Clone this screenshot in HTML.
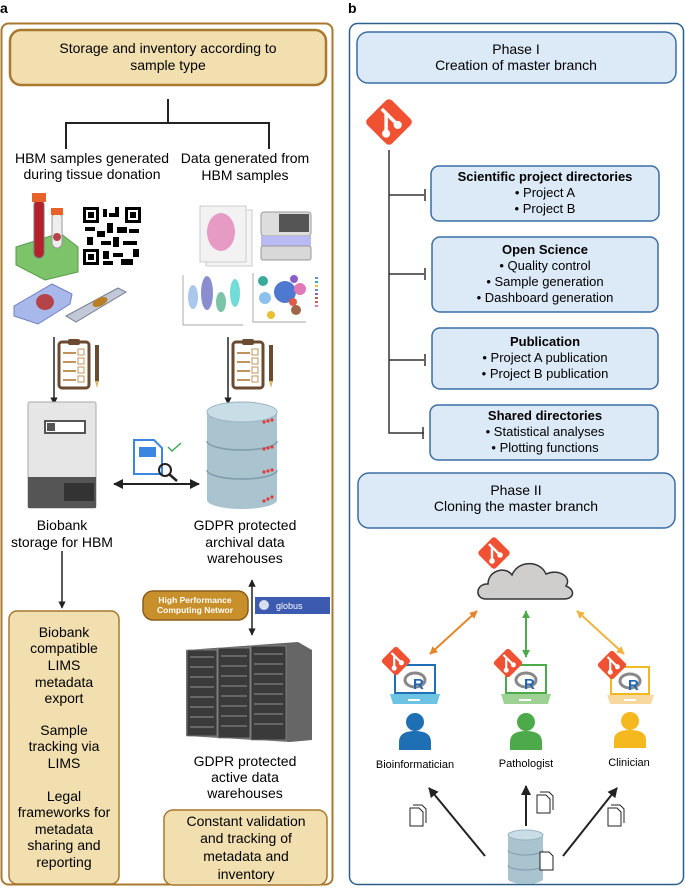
<!DOCTYPE html>
<html><head><meta charset="utf-8"><style>
html,body{margin:0;padding:0;background:#fff}
svg{display:block;font-family:"Liberation Sans",sans-serif}
</style></head><body>
<svg width="685" height="892" viewBox="0 0 685 892" xmlns="http://www.w3.org/2000/svg">
<defs>
<marker id="ah" viewBox="0 0 10 10" refX="9" refY="5" markerWidth="5" markerHeight="5" orient="auto-start-reverse"><path d="M0,0 L10,5 L0,10 z" fill="#222"/></marker>
<marker id="ao" viewBox="0 0 10 10" refX="9" refY="5" markerWidth="4" markerHeight="4" orient="auto-start-reverse"><path d="M0,0 L10,5 L0,10 z" fill="#e8852a"/></marker>
<marker id="ag" viewBox="0 0 10 10" refX="9" refY="5" markerWidth="4" markerHeight="4" orient="auto-start-reverse"><path d="M0,0 L10,5 L0,10 z" fill="#4caa4a"/></marker>
<marker id="ay" viewBox="0 0 10 10" refX="9" refY="5" markerWidth="4" markerHeight="4" orient="auto-start-reverse"><path d="M0,0 L10,5 L0,10 z" fill="#f2b240"/></marker>
<g id="git"><rect x="-12" y="-12" width="24" height="24" rx="3" fill="#f05133" transform="rotate(45)"/><path d="M-5,-9 L6,2 M-2,-6 L-2,8" stroke="#fff" stroke-width="2.4"/><circle cx="-2" cy="8" r="2.8" fill="#fff"/><circle cx="6" cy="2" r="2.8" fill="#fff"/></g>
<g id="doc"><path d="M0,0 h9 l4,4 v14 h-13 z" fill="#fff" stroke="#222" stroke-width="1"/><path d="M3,-3 h9 l4,4 v14" fill="none" stroke="#222" stroke-width="1"/></g>
</defs>

<!-- Panel a -->
<text x="0" y="13" font-size="14" font-weight="bold">a</text>
<rect x="1.5" y="23.5" width="331" height="861" rx="7" fill="none" stroke="#a8782f" stroke-width="2"/>
<rect x="10" y="30" width="316" height="55" rx="11" fill="#f2dfb0" stroke="#a8782f" stroke-width="2.5"/>
<text x="168" y="53" font-size="14" text-anchor="middle">Storage and inventory according to</text>
<text x="168" y="70" font-size="14" text-anchor="middle">sample type</text>
<path d="M168,99 V123 M66,149 V123 H269 V149" fill="none" stroke="#222" stroke-width="2"/>
<text x="92" y="163" font-size="14" text-anchor="middle">HBM samples generated</text>
<text x="92" y="179" font-size="14" text-anchor="middle">during tissue donation</text>
<text x="245" y="163" font-size="14" text-anchor="middle">Data generated from</text>
<text x="245" y="180" font-size="14" text-anchor="middle">HBM samples</text>

<!-- tubes & rack -->
<path d="M16,247 L60,233 L78,247 L78,272 L45,280 L16,265 z" fill="#7cc36a" stroke="#5a9a4a"/>
<rect x="34" y="200" width="10" height="58" rx="5" fill="#b5202a" stroke="#777"/>
<rect x="32" y="193" width="14" height="9" fill="#e8632a"/>
<rect x="52" y="213" width="10" height="35" rx="5" fill="#eee" stroke="#999"/>
<rect x="51" y="208" width="12" height="7" fill="#e8632a"/>
<circle cx="57" cy="237" r="4" fill="#b5444a"/>
<!-- QR -->
<rect x="83" y="207" width="58" height="58" fill="#fff"/>
<g fill="#000">
<rect x="83" y="207" width="16" height="16"/><rect x="125" y="207" width="16" height="16"/><rect x="83" y="249" width="16" height="16"/>
<rect x="103" y="209" width="4" height="8"/><rect x="109" y="213" width="6" height="4"/><rect x="115" y="207" width="4" height="10"/>
<rect x="85" y="227" width="10" height="4"/><rect x="97" y="231" width="8" height="6"/><rect x="107" y="223" width="6" height="10"/><rect x="117" y="227" width="10" height="6"/><rect x="129" y="229" width="10" height="4"/>
<rect x="87" y="237" width="6" height="8"/><rect x="101" y="241" width="10" height="4"/><rect x="113" y="237" width="6" height="10"/><rect x="123" y="241" width="14" height="4"/>
<rect x="103" y="251" width="6" height="8"/><rect x="113" y="253" width="10" height="4"/><rect x="121" y="259" width="12" height="6"/><rect x="133" y="249" width="6" height="8"/><rect x="103" y="261" width="10" height="4"/>
</g>
<rect x="86" y="210" width="10" height="10" fill="#fff"/><rect x="128" y="210" width="10" height="10" fill="#fff"/><rect x="86" y="252" width="10" height="10" fill="#fff"/>
<rect x="88" y="212" width="6" height="6"/><rect x="130" y="212" width="6" height="6"/><rect x="88" y="254" width="6" height="6"/>
<!-- cassettes -->
<path d="M14,306 L52,284 L72,294 L70,304 L38,324 L14,316 z" fill="#a9b8ea" stroke="#6e7fc4"/>
<ellipse cx="45" cy="302" rx="9" ry="8" fill="#b5444a"/>
<path d="M66,316 L118,288 L126,292 L76,322 z" fill="#c3c8d8" stroke="#7a8090"/>
<ellipse cx="100" cy="302" rx="8" ry="4" fill="#b88023" transform="rotate(-25 100 302)"/>
<!-- histology -->
<rect x="206" y="210" width="46" height="56" fill="#f4f4f4" stroke="#ccc"/>
<rect x="200" y="206" width="46" height="56" fill="#f2f2f2" stroke="#ccc"/>
<ellipse cx="221" cy="232" rx="14" ry="19" fill="#e79ac3"/>
<!-- scanner -->
<rect x="261" y="212" width="50" height="24" rx="3" fill="#ddd" stroke="#999"/>
<rect x="279" y="214" width="30" height="18" fill="#555"/>
<rect x="261" y="236" width="50" height="10" fill="#b9b9f3"/>
<rect x="261" y="246" width="50" height="14" rx="2" fill="#d8d8d8" stroke="#999"/>
<!-- violin -->
<path d="M183,275 V325 H243" fill="none" stroke="#888" stroke-width="0.7"/>
<ellipse cx="193" cy="297" rx="5" ry="12" fill="#a9c8ec"/>
<ellipse cx="207" cy="293" rx="6" ry="17" fill="#8a8ed0"/>
<ellipse cx="221" cy="302" rx="5" ry="10" fill="#7bc4a8"/>
<ellipse cx="235" cy="293" rx="5" ry="14" fill="#72dcd8"/>
<!-- tsne -->
<path d="M253,273 V322 H306" fill="none" stroke="#888" stroke-width="0.7"/>
<circle cx="263" cy="281" r="5" fill="#3aaa9a"/><circle cx="265" cy="298" r="6" fill="#8cc0ee"/><circle cx="285" cy="292" r="11" fill="#4f78d0"/><circle cx="294" cy="279" r="4" fill="#8b5fc9"/><circle cx="300" cy="289" r="6" fill="#e078b8"/><circle cx="293" cy="302" r="4" fill="#e05a4a"/><circle cx="296" cy="310" r="5" fill="#a0664a"/><circle cx="271" cy="315" r="4" fill="#e8c030"/>
<g fill="#6a8fd8"><rect x="315" y="277" width="3" height="2"/><rect x="315" y="281" width="3" height="2" fill="#3aaa9a"/><rect x="315" y="285" width="3" height="2" fill="#e8c030"/><rect x="315" y="289" width="3" height="2"/><rect x="315" y="293" width="3" height="2" fill="#8b5fc9"/><rect x="315" y="297" width="3" height="2" fill="#a0664a"/><rect x="315" y="301" width="3" height="2" fill="#e05a4a"/><rect x="315" y="305" width="3" height="2" fill="#e078b8"/></g>

<!-- down arrows + clipboards -->
<line x1="54" y1="337" x2="54" y2="404" stroke="#222" stroke-width="1.5" marker-end="url(#ah)"/>
<line x1="228" y1="337" x2="228" y2="404" stroke="#222" stroke-width="1.5" marker-end="url(#ah)"/>
<g id="clip">
<rect x="59" y="342" width="30" height="46" rx="3" fill="#fff" stroke="#6b4a32" stroke-width="3"/>
<rect x="68" y="339" width="12" height="6" rx="2" fill="#6b4a32"/>
<path d="M63,353 H76 M63,362 H76 M63,371 H76 M63,380 H76" stroke="#c0935a" stroke-width="2"/>
<rect x="78" y="349" width="6" height="6" fill="none" stroke="#c0935a"/><rect x="78" y="358" width="6" height="6" fill="none" stroke="#c0935a"/><rect x="78" y="367" width="6" height="6" fill="none" stroke="#c0935a"/><rect x="78" y="376" width="6" height="6" fill="none" stroke="#c0935a"/>
<rect x="95" y="345" width="4" height="36" fill="#6b4a32"/><path d="M95,381 L97,388 L99,381 z" fill="#d9b56a"/>
</g>
<use href="#clip" x="174"/>

<!-- freezer -->
<rect x="28" y="402" width="68" height="106" rx="2" fill="#e6e6e6" stroke="#aaa"/>
<rect x="45" y="421" width="40" height="12" fill="#fff" stroke="#555" stroke-width="2"/>
<rect x="47" y="423" width="8" height="8" fill="#555"/>
<rect x="28" y="477" width="68" height="31" fill="#555"/>
<rect x="64" y="483" width="30" height="18" fill="#333"/>
<!-- database -->
<g>
<rect x="207" y="412" width="70" height="88" fill="#a9c3cf"/>
<ellipse cx="242" cy="500" rx="35" ry="9" fill="#a9c3cf"/>
<path d="M207,441 A35,9 0 0 0 277,441 M207,470 A35,9 0 0 0 277,470" fill="none" stroke="#7f9cab" stroke-width="1.5"/>
<ellipse cx="242" cy="412" rx="35" ry="10" fill="#c8dde6" stroke="#9ab3c0"/>
<g fill="#e03a3a"><circle cx="264" cy="422" r="1.6"/><circle cx="268" cy="421" r="1.6"/><circle cx="272" cy="420" r="1.6"/><circle cx="264" cy="472" r="1.6"/><circle cx="268" cy="471" r="1.6"/><circle cx="272" cy="470" r="1.6"/><circle cx="264" cy="501" r="1.6"/><circle cx="268" cy="499" r="1.6"/><circle cx="272" cy="497" r="1.6"/><circle cx="264" cy="449" r="1.6"/><circle cx="268" cy="448" r="1.6"/><circle cx="272" cy="447" r="1.6"/></g>
</g>
<!-- doc check -->
<path d="M134,440 h20 l8,8 v26 h-28 z" fill="#fff" stroke="#3a86e0" stroke-width="2"/>
<rect x="139" y="447" width="17" height="10" fill="#3a86e0"/>
<circle cx="165" cy="470" r="6" fill="none" stroke="#222" stroke-width="2"/><line x1="169" y1="474" x2="177" y2="481" stroke="#222" stroke-width="2.5"/>
<path d="M168,447 l4,4 l9,-8" fill="none" stroke="#3aaa5a" stroke-width="1.5"/>
<line x1="114" y1="484" x2="199" y2="484" stroke="#222" stroke-width="2" marker-start="url(#ah)" marker-end="url(#ah)"/>

<text x="62" y="530" font-size="14" text-anchor="middle">Biobank</text>
<text x="62" y="547" font-size="14" text-anchor="middle">storage for HBM</text>
<text x="245" y="530" font-size="14" text-anchor="middle">GDPR protected</text>
<text x="245" y="547" font-size="14" text-anchor="middle">archival data</text>
<text x="245" y="563" font-size="14" text-anchor="middle">warehouses</text>
<line x1="62" y1="551" x2="62" y2="608" stroke="#222" stroke-width="1.5" marker-end="url(#ah)"/>

<rect x="143" y="591" width="105" height="29" rx="10" fill="#c8902a" stroke="#8a5f1a" stroke-width="1.5"/>
<text x="195" y="603" font-size="8.5" font-weight="bold" fill="#fff" text-anchor="middle">High Performance</text>
<text x="195" y="613" font-size="8.5" font-weight="bold" fill="#fff" text-anchor="middle">Computing Networ</text>
<rect x="255" y="597" width="75" height="17" fill="#3b5ab0"/>
<text x="276" y="609" font-size="9" fill="#fff">globus</text>
<circle cx="264" cy="605" r="5" fill="#fff" opacity="0.8"/>
<line x1="252" y1="580" x2="252" y2="635" stroke="#222" stroke-width="1.5" marker-start="url(#ah)" marker-end="url(#ah)"/>

<!-- servers -->
<path d="M186,650 L298,642 L312,650 L312,740 L290,742 L186,736 z" fill="#666"/>
<g fill="#3a3a3a" stroke="#888" stroke-width="0.8">
<rect x="187" y="650" width="30" height="86"/><rect x="218" y="648" width="32" height="90"/><rect x="251" y="646" width="35" height="94"/>
</g>
<g stroke="#666" stroke-width="2">
<path d="M190,657 H214 M190,667 H214 M190,677 H214 M190,687 H214 M190,697 H214 M190,707 H214 M190,717 H214 M190,727 H214"/>
<path d="M221,656 H247 M221,666 H247 M221,676 H247 M221,686 H247 M221,696 H247 M221,706 H247 M221,716 H247 M221,726 H247"/>
<path d="M254,654 H283 M254,664 H283 M254,674 H283 M254,684 H283 M254,694 H283 M254,704 H283 M254,714 H283 M254,724 H283"/>
</g>
<text x="245" y="766" font-size="14" text-anchor="middle">GDPR protected</text>
<text x="245" y="782" font-size="14" text-anchor="middle">active data</text>
<text x="245" y="798" font-size="14" text-anchor="middle">warehouses</text>

<rect x="9" y="611" width="110" height="273" rx="8" fill="#f2dfb0" stroke="#a8782f" stroke-width="1.5"/>
<g font-size="14" text-anchor="middle">
<text x="64" y="637">Biobank</text><text x="64" y="653">compatible</text><text x="64" y="670">LIMS</text><text x="64" y="687">metadata</text><text x="64" y="703">export</text>
<text x="64" y="735">Sample</text><text x="64" y="751">tracking via</text><text x="64" y="768">LIMS</text>
<text x="64" y="801">Legal</text><text x="64" y="817">frameworks for</text><text x="64" y="834">metadata</text><text x="64" y="850">sharing and</text><text x="64" y="867">reporting</text>
</g>
<rect x="164" y="810" width="163" height="75" rx="9" fill="#f2dfb0" stroke="#a8782f" stroke-width="1.5"/>
<g font-size="14" text-anchor="middle">
<text x="246" y="826">Constant validation</text><text x="246" y="843">and tracking of</text><text x="246" y="861">metadata and</text><text x="246" y="879">inventory</text>
</g>

<!-- Panel b -->
<text x="348" y="13" font-size="14" font-weight="bold">b</text>
<rect x="349.5" y="23.5" width="334" height="861" rx="8" fill="none" stroke="#2c5f8a" stroke-width="1.5"/>
<rect x="357" y="32" width="319" height="51" rx="11" fill="#dce9f7" stroke="#3a6ea5" stroke-width="1.5"/>
<text x="516" y="54" font-size="14" text-anchor="middle">Phase I</text>
<text x="516" y="70" font-size="14" text-anchor="middle">Creation of master branch</text>
<g transform="translate(389,122) scale(1.45)"><use href="#git"/></g>
<path d="M389,150 V433 H424 M389,195 H424 M389,274 H424 M389,360 H424" fill="none" stroke="#333" stroke-width="1.5"/>
<path d="M425,189 V201 M425,268 V280 M425,354 V366 M423,427 V439" stroke="#333" stroke-width="1.5"/>
<g fill="#dce9f7" stroke="#3a6ea5" stroke-width="1.5">
<rect x="431" y="166" width="228" height="55" rx="8"/>
<rect x="432" y="237" width="226" height="75" rx="8"/>
<rect x="432" y="328" width="226" height="61" rx="8"/>
<rect x="430" y="405" width="228" height="55" rx="8"/>
</g>
<g font-size="13" text-anchor="middle">
<text x="545" y="181" font-weight="bold">Scientific project directories</text>
<text x="545" y="197">•  Project A</text><text x="545" y="213">•  Project B</text>
<text x="545" y="254" font-weight="bold">Open Science</text>
<text x="545" y="270">•  Quality control</text><text x="545" y="286">•  Sample generation</text><text x="545" y="302">•  Dashboard generation</text>
<text x="545" y="346" font-weight="bold">Publication</text>
<text x="545" y="362">•  Project A publication</text><text x="545" y="378">•  Project B publication</text>
<text x="545" y="420" font-weight="bold">Shared directories</text>
<text x="545" y="436">•  Statistical analyses</text><text x="545" y="452">•  Plotting functions</text>
</g>
<rect x="358" y="473" width="317" height="55" rx="11" fill="#dce9f7" stroke="#3a6ea5" stroke-width="1.5"/>
<text x="516" y="495" font-size="14" text-anchor="middle">Phase II</text>
<text x="516" y="511" font-size="14" text-anchor="middle">Cloning the master branch</text>

<!-- cloud -->
<path d="M486,599 C474,599 476,583 488,584 C488,570 506,566 512,575 C518,560 540,560 546,574 C560,568 572,578 566,586 C576,590 574,599 564,599 z" fill="#d0cdcd" stroke="#333" stroke-width="1.5"/>
<g transform="translate(494,553)"><use href="#git"/></g>
<line x1="430" y1="654" x2="477" y2="611" stroke="#e8852a" stroke-width="2" marker-start="url(#ao)" marker-end="url(#ao)"/>
<line x1="526" y1="611" x2="526" y2="657" stroke="#4caa4a" stroke-width="2" marker-start="url(#ag)" marker-end="url(#ag)"/>
<line x1="577" y1="611" x2="624" y2="654" stroke="#f2b240" stroke-width="2" marker-start="url(#ay)" marker-end="url(#ay)"/>

<!-- laptops -->
<g id="lap">
<rect x="395" y="665" width="40" height="28" fill="#fff" stroke="#1f6fb5" stroke-width="2"/>
<path d="M390,694 H440 L437,704 H393 z" fill="#6cc3e3"/>
<rect x="408" y="699" width="12" height="2" fill="#fff"/>
<ellipse cx="415" cy="680" rx="10" ry="7" fill="none" stroke="#888" stroke-width="3"/>
<text x="413" y="689" font-size="15" font-weight="bold" fill="#2166b0">R</text>
</g>
<g transform="translate(0,0)">
<rect x="506" y="665" width="40" height="28" fill="#fff" stroke="#4caa4a" stroke-width="2"/>
<path d="M501,694 H551 L548,704 H504 z" fill="#9ed294"/>
<rect x="519" y="699" width="12" height="2" fill="#fff"/>
<ellipse cx="526" cy="680" rx="10" ry="7" fill="none" stroke="#888" stroke-width="3"/>
<text x="524" y="689" font-size="15" font-weight="bold" fill="#2166b0">R</text>
</g>
<g>
<rect x="611" y="667" width="38" height="27" fill="#fff" stroke="#f2b820" stroke-width="2"/>
<path d="M607,695 H654 L651,704 H610 z" fill="#f7d9a0"/>
<rect x="624" y="699" width="12" height="2" fill="#fff"/>
<ellipse cx="630" cy="681" rx="10" ry="7" fill="none" stroke="#888" stroke-width="3"/>
<text x="628" y="690" font-size="15" font-weight="bold" fill="#2166b0">R</text>
</g>
<use href="#git" transform="translate(396,661) scale(0.9)"/>
<use href="#git" transform="translate(508,663) scale(0.9)"/>
<use href="#git" transform="translate(612,665) scale(0.9)"/>

<!-- persons -->
<circle cx="415" cy="722" r="9" fill="#1f6fb5"/><path d="M399,750 V742 Q399,731 415,731 Q431,731 431,742 V750 z" fill="#1f6fb5"/>
<circle cx="526" cy="722" r="9" fill="#4caa4a"/><path d="M510,750 V742 Q510,731 526,731 Q542,731 542,742 V750 z" fill="#4caa4a"/>
<circle cx="630" cy="721" r="9" fill="#f5b81e"/><path d="M614,748 V740 Q614,730 630,730 Q646,730 646,740 V748 z" fill="#f5b81e"/>
<g font-size="11" text-anchor="middle">
<text x="415" y="768">Bioinformatician</text><text x="526" y="767">Pathologist</text><text x="629" y="766">Clinician</text>
</g>

<!-- bottom arrows -->
<line x1="485" y1="856" x2="429" y2="788" stroke="#222" stroke-width="2" marker-end="url(#ah)"/>
<line x1="526" y1="826" x2="526" y2="786" stroke="#222" stroke-width="2" marker-end="url(#ah)"/>
<line x1="563" y1="856" x2="617" y2="788" stroke="#222" stroke-width="2" marker-end="url(#ah)"/>
<use href="#doc" transform="translate(410,808)"/>
<use href="#doc" transform="translate(537,795)"/>
<use href="#doc" transform="translate(608,808)"/>
<!-- small db -->
<rect x="508" y="835" width="35" height="44" fill="#a9c3cf"/>
<ellipse cx="525.5" cy="879" rx="17.5" ry="5" fill="#a9c3cf"/>
<path d="M508,850 A17.5,5 0 0 0 543,850 M508,865 A17.5,5 0 0 0 543,865" fill="none" stroke="#7f9cab"/>
<ellipse cx="525.5" cy="835" rx="17.5" ry="5" fill="#c8dde6" stroke="#9ab3c0"/>
<path d="M540,852 h9 l4,4 v14 h-13 z" fill="#fff" stroke="#222"/>
</svg>
</body></html>
